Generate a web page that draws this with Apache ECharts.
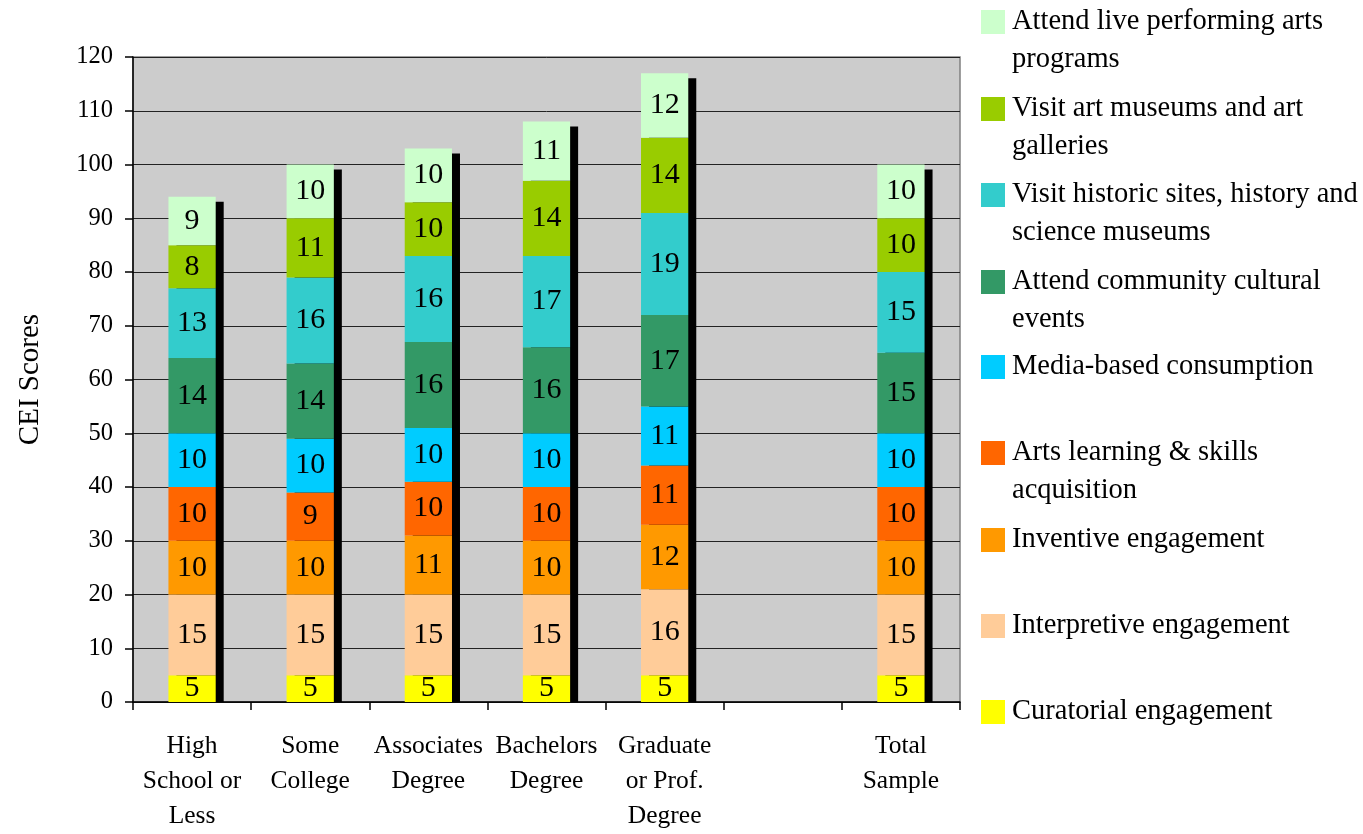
<!DOCTYPE html>
<html>
<head>
<meta charset="utf-8">
<title>CEI Scores by Education</title>
<script src="https://cdn.jsdelivr.net/npm/echarts@6/dist/echarts.min.js"></script>
<style>
  html, body { margin: 0; padding: 0; background: #fff; }
  #chart { width: 1363px; height: 834px; }
</style>
</head>
<body>
<div id="chart"></div>
<script>
// Education groups (the empty slot leaves a gap before the total)
const categories = ['High\nSchool or\nLess', 'Some\nCollege', 'Associates\nDegree', 'Bachelors\nDegree', 'Graduate\nor Prof.\nDegree', '', 'Total\nSample'];

// Component scores, bottom of the stack first
const curatorial   = [5, 5, 5, 5, 5, null, 5];
const interpretive = [15, 15, 15, 15, 16, null, 15];
const inventive    = [10, 10, 11, 10, 12, null, 10];
const artsLearning = [10, 9, 10, 10, 11, null, 10];
const media        = [10, 10, 10, 10, 11, null, 10];
const community    = [14, 14, 16, 16, 17, null, 15];
const historic     = [13, 16, 16, 17, 19, null, 15];
const museums      = [8, 11, 10, 14, 14, null, 10];
const liveArts     = [9, 10, 10, 11, 12, null, 10];

const yTicks = { min: 0, max: 120, interval: 10 };

const FONT = "'Liberation Serif', 'DejaVu Serif', serif";

const seriesDefs = [
  { name: 'Curatorial engagement', data: curatorial, color: '#FFFF00', label: 'Curatorial engagement' },
  { name: 'Interpretive engagement', data: interpretive, color: '#FFCC99', label: 'Interpretive engagement' },
  { name: 'Inventive engagement', data: inventive, color: '#FF9900', label: 'Inventive engagement' },
  { name: 'Arts learning & skills acquisition', data: artsLearning, color: '#FF6600', label: 'Arts learning & skills\nacquisition' },
  { name: 'Media-based consumption', data: media, color: '#00CCFF', label: 'Media-based consumption' },
  { name: 'Attend community cultural events', data: community, color: '#339966', label: 'Attend community cultural\nevents' },
  { name: 'Visit historic sites, history and science museums', data: historic, color: '#33CCCC', label: 'Visit historic sites, history and\nscience museums' },
  { name: 'Visit art museums and art galleries', data: museums, color: '#99CC00', label: 'Visit art museums and art\ngalleries' },
  { name: 'Attend live performing arts programs', data: liveArts, color: '#CCFFCC', label: 'Attend live performing arts\nprograms' }
];

// Stack totals, used for the dark shadow behind each column
const totals = categories.map((_, i) => {
  if (seriesDefs.every(s => s.data[i] == null)) return null;
  return seriesDefs.reduce((acc, s) => acc + (s.data[i] || 0), 0);
});

const BAR_RATIO = 0.4;

const barSeries = seriesDefs.map(s => ({
  name: s.name,
  type: 'bar',
  stack: 'cei',
  barWidth: (BAR_RATIO * 100) + '%',
  z: 3,
  itemStyle: { color: s.color },
  label: {
    show: true,
    position: 'inside',
    color: '#000',
    fontFamily: FONT,
    fontSize: 30
  },
  emphasis: { disabled: true },
  data: s.data
}));

const shadowSeries = {
  type: 'custom',
  name: 'shadow',
  z: 1,
  silent: true,
  data: totals.map((t, i) => [i, t]).filter(d => d[1] != null),
  renderItem: function (params, api) {
    const top = api.coord([api.value(0), api.value(1)]);
    const base = api.coord([api.value(0), 0]);
    const bw = api.size([1, 0])[0] * BAR_RATIO;
    const dx = 8, dy = 5;
    return {
      type: 'rect',
      shape: { x: top[0] - bw / 2 + dx, y: top[1] + dy, width: bw, height: base[1] - top[1] - dy },
      style: { fill: '#000' }
    };
  }
};

// Legend: one block per series, listed top-down in reverse stack order
const legendTops = [3, 90, 176, 263, 348, 434, 521, 607, 693];
const legends = seriesDefs.slice().reverse().map((s, k) => {
  const twoLine = s.label.indexOf('\n') >= 0;
  return {
    data: [s.name],
    left: 981,
    top: legendTops[k],
    orient: 'vertical',
    padding: 0,
    itemGap: 0,
    itemWidth: 24,
    itemHeight: twoLine ? 62 : 24,
    icon: twoLine ? 'path://M0,0h24v24h-24zM0,62' : 'rect',
    selectedMode: false,
    formatter: () => s.label,
    textStyle: { fontFamily: FONT, fontSize: 28.5, lineHeight: 38, color: '#000', padding: [0, 0, 0, 2] }
  };
});

const chart = echarts.init(document.getElementById('chart'), null, { renderer: 'canvas' });
chart.setOption({
  animation: false,
  backgroundColor: '#ffffff',
  legend: legends,
  grid: {
    left: 133, right: 403, top: 57, bottom: 129,
    show: true,
    backgroundColor: '#CCCCCC',
    borderColor: '#808080',
    borderWidth: 1.5
  },
  xAxis: {
    type: 'category',
    data: categories,
    axisLine: { lineStyle: { color: '#000', width: 1.5 } },
    axisTick: { show: true, length: 8, lineStyle: { color: '#000', width: 1.5 } },
    axisLabel: {
      interval: 0,
      margin: 27,
      color: '#000',
      fontFamily: FONT,
      fontSize: 25.5,
      lineHeight: 35
    }
  },
  yAxis: {
    type: 'value',
    min: yTicks.min,
    max: yTicks.max,
    interval: yTicks.interval,
    name: 'CEI Scores',
    nameLocation: 'middle',
    nameRotate: 90,
    nameGap: 88,
    nameTextStyle: { fontFamily: FONT, fontSize: 29, color: '#000' },
    axisLine: { show: true, lineStyle: { color: '#000', width: 1.5 } },
    axisTick: { show: true, length: 8, lineStyle: { color: '#000', width: 1.5 } },
    axisLabel: { margin: 20, color: '#000', fontFamily: FONT, fontSize: 24.5 },
    splitLine: { show: true, lineStyle: { color: '#222', width: 1 } }
  },
  series: [shadowSeries].concat(barSeries)
});
</script>
</body>
</html>
